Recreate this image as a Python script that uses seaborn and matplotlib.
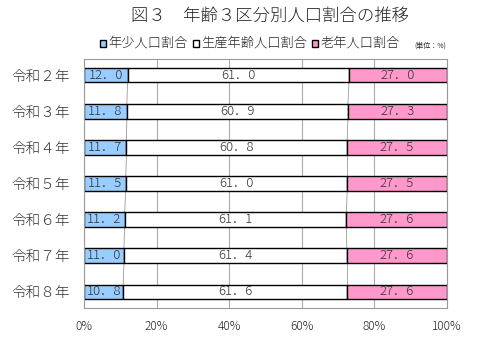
import numpy as np
import pandas as pd
import matplotlib
matplotlib.use("Agg")
import matplotlib.pyplot as plt
import seaborn as sns

# datos
years = ["令和２年", "令和３年", "令和４年", "令和５年", "令和６年", "令和７年", "令和８年"]
young = [12.0, 11.8, 11.7, 11.5, 11.2, 11.0, 10.8]
working = [61.0, 60.9, 60.8, 61.0, 61.1, 61.4, 61.6]
elderly = [27.0, 27.3, 27.5, 27.5, 27.6, 27.6, 27.6]
series_names = ["年少人口割合", "生産年齢人口割合", "老年人口割合"]
xticks = [0, 20, 40, 60, 80, 100]

sns.set_style("white")
plt.rcParams["font.family"] = ["Noto Sans CJK JP", "DejaVu Sans"]

colores = ["#99CCFF", "#FFFFFF", "#FF99CC"]

fig = plt.figure(figsize=(4.8, 3.38), dpi=100)
ax = fig.add_axes([84 / 480, 1 - 308 / 338, 363 / 480, 249 / 338])

df = pd.DataFrame({"year": years, series_names[0]: young,
                   series_names[1]: working, series_names[2]: elderly})
left = np.zeros(len(years))
ypos = np.arange(len(years))
for name, col in zip(series_names, colores):
    vals = df[name].values
    sns.barplot(ax=ax, x=vals, y=df["year"], left=left, orient="h",
                color=col, edgecolor="black", linewidth=1.0, width=0.4,
                saturation=1, label=name, legend=False)
    for y, l, v in zip(ypos, left, vals):
        ax.text(l + v / 2, y, f"{v:.1f}".replace(".", "．"), ha="center",
                va="center", fontsize=9.5, color="#333333", fontweight="light")
    left = left + vals

# lineas de serie
cum1 = np.array(young)
cum2 = cum1 + np.array(working)
for cum in (cum1, cum2):
    for i in range(len(years) - 1):
        ax.plot([cum[i], cum[i + 1]], [i + 0.2, i + 1 - 0.2],
                color="#999999", lw=0.6, zorder=0.5)

ax.set_xlim(0, 100)
ax.set_ylim(len(years) - 0.55, -0.45)
ax.set_xticks(xticks)
ax.set_xticklabels([f"{t}%" for t in xticks], fontsize=8.5, fontweight="light")
ax.set_yticks(ypos)
ax.set_yticklabels(years, fontsize=10.5, fontweight="light", color="#333333")
ax.set_yticks(np.arange(len(years) - 1) + 0.5, minor=True)
ax.tick_params(axis="y", which="minor", length=3, direction="in", color="#999999")
ax.tick_params(axis="y", which="major", length=0, pad=10)
ax.tick_params(axis="x", length=0, pad=9)
ax.set_xlabel("")
ax.set_ylabel("")
ax.xaxis.grid(True, color="#aaaaaa", lw=0.8)
ax.set_axisbelow(True)
for s in ax.spines.values():
    s.set_color("#999999")
    s.set_linewidth(0.8)

fig.text(0.563, 0.953, "図３　年齢３区分別人口割合の推移", ha="center", va="center",
         fontsize=12.5, fontweight="light")

# leyenda
leg_y = 1 - 43 / 338
items = [(100, series_names[0], colores[0]), (193, series_names[1], colores[1]),
         (312, series_names[2], colores[2])]
for x, name, col in items:
    fig.patches.append(plt.Rectangle((x / 480, leg_y - 0.011), 6 / 480, 7 / 338,
                                     transform=fig.transFigure, facecolor=col,
                                     edgecolor="black", lw=1.0))
    fig.text((x + 8) / 480, leg_y, name, ha="left", va="center", fontsize=9.5,
             fontweight="light")
fig.text(414 / 480, 1 - 46 / 338, "(単位：%)", ha="left", va="center", fontsize=5)

fig.savefig("out.png", dpi=100)
